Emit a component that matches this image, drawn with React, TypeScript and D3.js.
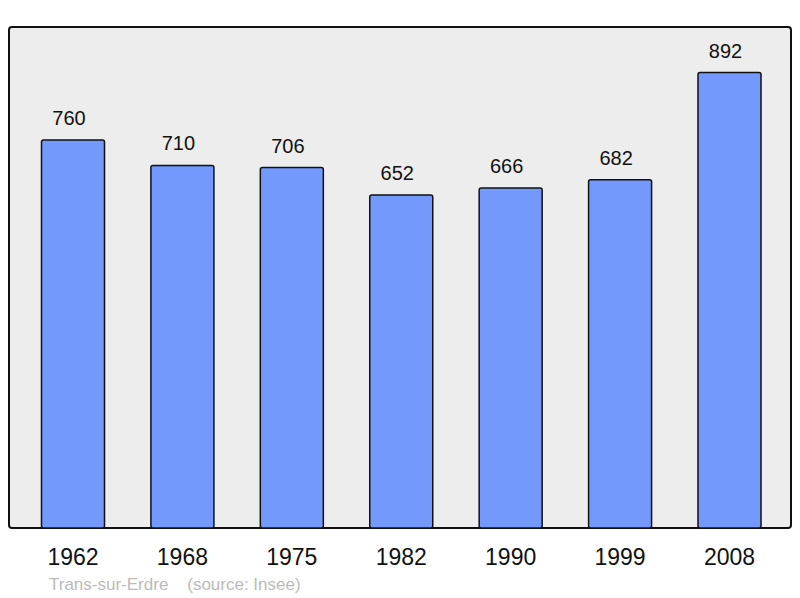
import React from "react";
import * as d3 from "d3";

const years = ["1962", "1968", "1975", "1982", "1990", "1999", "2008"];
const population = [760, 710, 706, 652, 666, 682, 892];
const footer = "Trans-sur-Erdre    (source: Insee)";

export default function App() {
  const W = 800, H = 598;
  const panel = { x: 9, y: 27, w: 782, h: 501 };
  const x = d3.scalePoint<string>().domain(years).range([73, 729.5]);
  const y = d3.scaleLinear().domain([0, 892 * 1.1]).range([panel.y + panel.h, panel.y]);
  const bw = 63;
  return (
    <svg width={W} height={H} style={{ position: "absolute", left: 0, top: 0, fontFamily: "Liberation Sans, Arial, sans-serif" }}>
      <rect x={panel.x} y={panel.y} width={panel.w} height={panel.h} rx={3} fill="#ededed" stroke="#111" strokeWidth={2} />
      {years.map((yr, i) => {
        const cx = x(yr)!;
        const v = population[i];
        return (
          <g key={yr}>
            <rect x={cx - bw / 2} y={y(v)} width={bw} height={y(0) - y(v)} rx={2} fill="#7399ff" stroke="#111" strokeWidth={1.5} />
            <text x={cx - 4} y={y(v) - 15} textAnchor="middle" fontSize={20} fill="#111">{v}</text>
            <text x={cx} y={565} textAnchor="middle" fontSize={23} fill="#111">{yr}</text>
          </g>
        );
      })}
      <text x={49} y={590} fontSize={17} fill="#bbbbbb" style={{ whiteSpace: "pre" }}>{footer}</text>
    </svg>
  );
}
